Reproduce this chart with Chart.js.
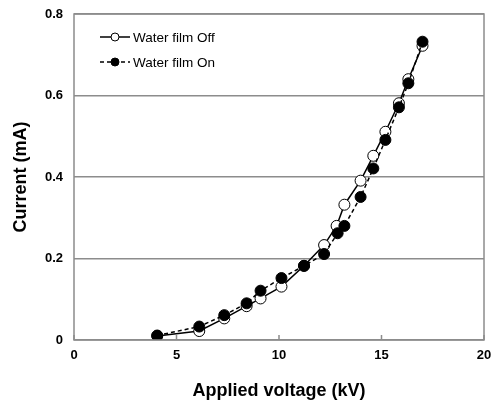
<!DOCTYPE html>
<html>
<head>
    <meta charset="UTF-8">
    <title>Current vs Applied Voltage</title>
    <script src="https://cdn.jsdelivr.net/npm/chart.js"></script>
    <style>
        body { margin: 0; background: #fff; }
    </style>
</head>
<body>
    <canvas id="myChart" width="492" height="402"></canvas>

    <script>
        // values
        const voltageOff = [4.06, 6.11, 7.33, 8.42, 9.1, 10.12, 11.22, 12.2, 12.81, 13.19, 13.98, 14.6, 15.19, 15.85, 16.31, 17.0];
        const currentOff = [0.01, 0.022, 0.053, 0.083, 0.102, 0.131, 0.182, 0.233, 0.28, 0.332, 0.391, 0.452, 0.511, 0.581, 0.64, 0.722];
        const voltageOn = [4.06, 6.11, 7.33, 8.42, 9.1, 10.12, 11.22, 12.2, 12.86, 13.19, 13.98, 14.6, 15.19, 15.85, 16.31, 17.0];
        const currentOn = [0.011, 0.033, 0.061, 0.09, 0.121, 0.152, 0.182, 0.211, 0.262, 0.28, 0.351, 0.421, 0.491, 0.571, 0.63, 0.732];
        const seriesNames = ['Water film Off', 'Water film On'];

        const toPoints = (xs, ys) => xs.map((x, i) => ({ x: x, y: ys[i] }));
        const font = 'Liberation Sans, Arial, sans-serif';

        // frame round the plot area plus inward tick marks on the x axis
        const framePlugin = {
            id: 'frame',
            afterDraw(chart) {
                const c = chart.ctx, a = chart.chartArea, xs = chart.scales.x;
                c.save();
                c.strokeStyle = '#8c8c8c';
                c.lineWidth = 1.5;
                c.strokeRect(a.left, a.top, a.right - a.left, a.bottom - a.top);
                c.beginPath();
                xs.ticks.forEach(t => {
                    const px = xs.getPixelForValue(t.value);
                    c.moveTo(px, a.bottom);
                    c.lineTo(px, a.bottom - 5);
                });
                c.stroke();
                c.restore();
            }
        };

        // legend drawn inside the plot, top left
        const legendPlugin = {
            id: 'insideLegend',
            afterDatasetsDraw(chart) {
                const c = chart.ctx, a = chart.chartArea;
                const items = [chart.data.datasets[1], chart.data.datasets[0]];
                c.save();
                items.forEach((ds, i) => {
                    const y = a.top + 23 + i * 25;
                    const x0 = a.left + 26;
                    c.strokeStyle = '#000';
                    c.lineWidth = 1.5;
                    c.setLineDash(ds.borderDash || []);
                    c.beginPath();
                    c.moveTo(x0, y);
                    c.lineTo(x0 + 30, y);
                    c.stroke();
                    c.setLineDash([]);
                    c.beginPath();
                    c.arc(x0 + 15, y, 4, 0, Math.PI * 2);
                    c.fillStyle = ds.pointBackgroundColor;
                    c.fill();
                    c.lineWidth = 1;
                    c.stroke();
                    c.fillStyle = '#000';
                    c.font = '13.5px ' + font;
                    c.textBaseline = 'middle';
                    c.fillText(ds.label, x0 + 33, y + 1);
                });
                c.restore();
            }
        };

        const ctx = document.getElementById('myChart').getContext('2d');
        new Chart(ctx, {
            type: 'scatter',
            data: {
                datasets: [
                    {
                        label: seriesNames[1],
                        data: toPoints(voltageOn, currentOn),
                        showLine: true,
                        borderColor: '#000',
                        borderWidth: 1.5,
                        borderDash: [4, 3],
                        pointRadius: 5.5,
                        pointBorderWidth: 1,
                        pointBackgroundColor: '#000',
                        pointBorderColor: '#000',
                        order: 1
                    },
                    {
                        label: seriesNames[0],
                        data: toPoints(voltageOff, currentOff),
                        showLine: true,
                        borderColor: '#000',
                        borderWidth: 1.5,
                        pointRadius: 5.5,
                        pointBorderWidth: 1,
                        pointBackgroundColor: '#fff',
                        pointBorderColor: '#000',
                        order: 2
                    }
                ]
            },
            options: {
                responsive: false,
                animation: false,
                layout: { padding: { left: 0, right: 8, top: 14, bottom: 0 } },
                plugins: {
                    legend: { display: false },
                    tooltip: { enabled: false }
                },
                scales: {
                    x: {
                        type: 'linear',
                        min: 0,
                        max: 20,
                        ticks: { stepSize: 5, color: '#000', font: { family: font, size: 13, weight: 'bold' }, padding: 8 },
                        grid: { display: false, drawTicks: false },
                        border: { display: false },
                        title: { display: true, text: 'Applied voltage (kV)', color: '#000', font: { family: font, size: 18, weight: 'bold' }, padding: { top: 21, bottom: 0 } },
                        afterFit(s) { s.height = 62; s.paddingLeft = 0; s.paddingRight = 0; }
                    },
                    y: {
                        min: 0,
                        max: 0.8,
                        ticks: { stepSize: 0.2, color: '#000', font: { family: font, size: 13, weight: 'bold' }, padding: 11, callback: v => String(+v.toFixed(1)) },
                        grid: { color: '#8c8c8c', lineWidth: 1.5, drawTicks: false },
                        border: { display: false },
                        title: { display: true, text: 'Current (mA)', color: '#000', font: { family: font, size: 18, weight: 'bold' }, padding: { top: 10, bottom: 6 } },
                        afterFit(s) { s.width = 74; s.paddingTop = 0; s.paddingBottom = 0; }
                    }
                }
            },
            plugins: [framePlugin, legendPlugin]
        });
    </script>
</body>
</html>
